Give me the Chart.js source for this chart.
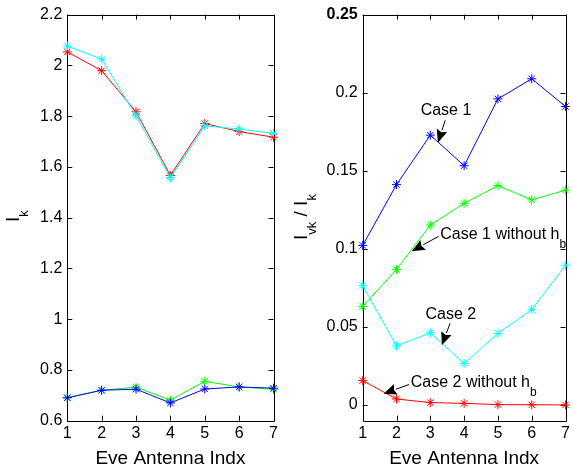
<!DOCTYPE html>
<html>
<head>
<meta charset="utf-8">
<script src="https://cdn.jsdelivr.net/npm/chart.js@4.4.1/dist/chart.umd.min.js"></script>
<style>
  html, body { margin: 0; padding: 0; background: #fff; }
  #wrap { position: relative; width: 573px; height: 470px; }
  #wrap canvas { position: absolute; top: 0; }
</style>
</head>
<body>
<div id="wrap">
  <canvas id="leftChart" width="287" height="470" style="left:0"></canvas>
  <canvas id="rightChart" width="286" height="470" style="left:287px"></canvas>
</div>
<script>
const antennas = ['1', '2', '3', '4', '5', '6', '7'];

// left panel: I_k per antenna
const ikRed   = [2.053, 1.979, 1.817, 1.566, 1.771, 1.739, 1.717];
const ikCyan  = [2.076, 2.025, 1.801, 1.557, 1.762, 1.749, 1.732];
const ikGreen = [0.691, 0.720, 0.732, 0.681, 0.755, 0.733, 0.724];
const ikBlue  = [0.690, 0.720, 0.724, 0.670, 0.725, 0.733, 0.728];
const ikTicks = [0.6, 0.8, 1, 1.2, 1.4, 1.6, 1.8, 2, 2.2];

// right panel: I_vk / I_k per antenna
const case1     = [0.1022, 0.1411, 0.1728, 0.1532, 0.1960, 0.2089, 0.1911];
const case1NoHb = [0.0631, 0.0867, 0.1152, 0.1291, 0.1405, 0.1313, 0.1376];
const case2     = [0.0764, 0.0378, 0.0462, 0.0266, 0.0458, 0.0610, 0.0895];
const case2NoHb = [0.0156, 0.0038, 0.0015, 0.0010, 0.0002, 0.0001, 0.0000];
const ratioTicks = [0, 0.05, 0.1, 0.15, 0.2, 0.25];

// text arrows, in data units (x = antenna index from 0)
const notes = [
    { text: 'Case 1', sub: '', at: [1.714, 0.1854], from: [2.44, 0.1823], to: [2.225, 0.168] },
    { text: 'Case 1 without h', sub: 'b', at: [2.295, 0.1061], from: [2.245, 0.108], to: [1.452, 0.0985] },
    { text: 'Case 2', sub: '', at: [1.859, 0.0553], from: [2.585, 0.0523], to: [2.341, 0.0382] },
    { text: 'Case 2 without h', sub: 'b', at: [1.423, 0.0118], from: [1.374, 0.0131], to: [0.619, 0.0072] }
];

const FONT = '"Liberation Sans", Arial, Helvetica, sans-serif';
const crisp = v => Math.round(v) + 0.5;

// box around the plot area with inward tick marks on all four sides
const boxFrame = {
    id: 'boxFrame',
    beforeDatasetsDraw(chart) {
        const { ctx, chartArea: a, scales: { x, y } } = chart;
        const len = 5;
        ctx.save();
        ctx.strokeStyle = '#000';
        ctx.lineWidth = 1;
        ctx.beginPath();
        x.ticks.forEach((t, i) => {
            const px = crisp(x.getPixelForTick(i));
            ctx.moveTo(px, a.bottom); ctx.lineTo(px, a.bottom - len);
            ctx.moveTo(px, a.top); ctx.lineTo(px, a.top + len);
        });
        y.ticks.forEach(t => {
            const py = crisp(y.getPixelForValue(t.value));
            ctx.moveTo(a.left, py); ctx.lineTo(a.left + len, py);
            ctx.moveTo(a.right, py); ctx.lineTo(a.right - len, py);
        });
        ctx.rect(crisp(a.left), crisp(a.top), Math.round(a.right) - Math.round(a.left), Math.round(a.bottom) - Math.round(a.top));
        ctx.stroke();
        ctx.restore();
    }
};

// draw a run of text pieces; sub pieces are smaller and dropped
function drawRuns(ctx, runs) {
    let x = 0;
    runs.forEach(r => {
        ctx.font = (r.sub ? 13 : 19) + 'px ' + FONT;
        ctx.fillText(r.t, x, r.sub ? 9.5 : 0);
        x += ctx.measureText(r.t).width;
    });
}

// rotated y axis label with subscripts
const sideLabel = {
    id: 'sideLabel',
    afterDraw(chart, args, opts) {
        const ctx = chart.ctx;
        ctx.save();
        ctx.fillStyle = '#000';
        ctx.textBaseline = 'alphabetic';
        ctx.textAlign = 'left';
        ctx.translate(opts.x, opts.y);
        ctx.rotate(-Math.PI / 2);
        drawRuns(ctx, opts.runs);
        ctx.restore();
    }
};

// annotation arrows on the ratio panel
const textArrows = {
    id: 'textArrows',
    afterDatasetsDraw(chart) {
        const { ctx, scales: { x, y } } = chart;
        const px = p => [x.getPixelForValue(p[0]), y.getPixelForValue(p[1])];
        ctx.save();
        ctx.strokeStyle = '#000';
        ctx.fillStyle = '#000';
        ctx.lineWidth = 1;
        notes.forEach(n => {
            const [x0, y0] = px(n.from);
            const [x1, y1] = px(n.to);
            const ang = Math.atan2(y1 - y0, x1 - x0);
            const head = 13, half = 5.5;
            const bx = x1 - head * Math.cos(ang), by = y1 - head * Math.sin(ang);
            ctx.beginPath();
            ctx.moveTo(x0, y0);
            ctx.lineTo(bx, by);
            ctx.stroke();
            ctx.beginPath();
            ctx.moveTo(x1, y1);
            ctx.lineTo(bx + half * Math.sin(ang), by - half * Math.cos(ang));
            ctx.lineTo(bx + 2 * Math.cos(ang), by + 2 * Math.sin(ang));
            ctx.lineTo(bx - half * Math.sin(ang), by + half * Math.cos(ang));
            ctx.closePath();
            ctx.fill();

            const [tx, ty] = px(n.at);
            ctx.textBaseline = 'alphabetic';
            ctx.textAlign = 'left';
            ctx.font = '16px ' + FONT;
            ctx.fillText(n.text, tx, ty);
            if (n.sub) {
                const w = ctx.measureText(n.text).width;
                ctx.font = '12px ' + FONT;
                ctx.fillText(n.sub, tx + w, ty + 9);
            }
        });
        ctx.restore();
    }
};

function series(data, color) {
    return {
        data: data,
        borderColor: color,
        backgroundColor: color,
        borderWidth: 1,
        tension: 0,
        pointStyle: 'star',
        pointRadius: 4.5,
        pointBorderWidth: 1,
        pointBorderColor: color,
        clip: false
    };
}

function axisOptions(ticks, min, max, yWidth, boldTop) {
    return {
        x: {
            type: 'category',
            offset: false,
            grid: { display: false, drawTicks: false },
            border: { display: false },
            ticks: { color: '#000', font: { family: FONT, size: 16 }, padding: 3, maxRotation: 0, autoSkip: false },
            title: { display: true, text: 'Eve Antenna Indx', color: '#000', font: { family: FONT, size: 19 }, padding: { top: 1, bottom: 0 } },
            afterFit(s) { s.height = 49.3; }
        },
        y: {
            type: 'linear',
            min: min,
            max: max,
            grid: { display: false, drawTicks: false },
            border: { display: false },
            afterBuildTicks(s) { s.ticks = ticks.map(v => ({ value: v })); },
            ticks: {
                color: '#000',
                padding: 5,
                font: ctx => ({ family: FONT, size: 16, weight: (boldTop && ctx.tick && ctx.tick.value === max) ? 'bold' : 'normal' }),
                callback: v => String(v)
            },
            afterFit(s) { s.width = yWidth; }
        }
    };
}

new Chart(document.getElementById('leftChart'), {
    type: 'line',
    data: {
        labels: antennas,
        datasets: [
            series(ikCyan, '#00ffff'),
            series(ikRed, '#ff0000'),
            series(ikBlue, '#0000ff'),
            series(ikGreen, '#00ff00')
        ]
    },
    options: {
        responsive: false,
        animation: false,
        layout: { padding: { top: 10, right: 13.5, bottom: 0, left: 0 } },
        scales: axisOptions(ikTicks, 0.6, 2.2, 67.3, false),
        plugins: {
            legend: { display: false },
            tooltip: { enabled: false },
            sideLabel: { x: 18.5, y: 222, runs: [{ t: 'I' }, { t: 'k', sub: true }] }
        }
    },
    plugins: [boxFrame, sideLabel]
});

new Chart(document.getElementById('rightChart'), {
    type: 'line',
    data: {
        labels: antennas,
        datasets: [
            series(case2NoHb, '#ff0000'),
            series(case2, '#00ffff'),
            series(case1NoHb, '#00ff00'),
            series(case1, '#0000ff')
        ]
    },
    options: {
        responsive: false,
        animation: false,
        layout: { padding: { top: 9.3, right: 3.7, bottom: 0, left: 0 } },
        scales: axisOptions(ratioTicks, -0.0101, 0.25, 75.7, true),
        plugins: {
            legend: { display: false },
            tooltip: { enabled: false },
            sideLabel: { x: 19.5, y: 240, runs: [{ t: 'I' }, { t: 'vk', sub: true }, { t: ' / I' }, { t: 'k', sub: true }] }
        }
    },
    plugins: [boxFrame, sideLabel, textArrows]
});
</script>
</body>
</html>
